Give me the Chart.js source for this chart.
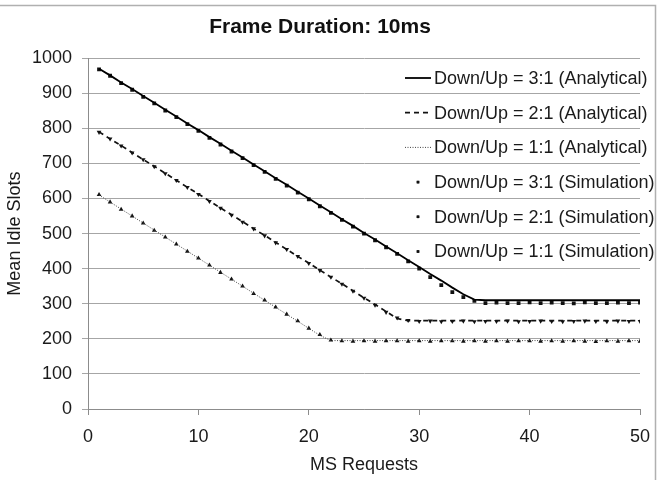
<!DOCTYPE html>
<html>
<head>
<meta charset="utf-8">
<title>Frame Duration: 10ms</title>
<script src="https://cdn.jsdelivr.net/npm/chart.js@4/dist/chart.umd.min.js"></script>
<style>
  html, body { margin: 0; padding: 0; background: #fff; }
  #chart { display: block; }
</style>
</head>
<body>
<canvas id="chart" width="663" height="480"></canvas>
<script>
// MS requests on the x axis
const requests = [1, 2, 3, 4, 5, 6, 7, 8, 9, 10, 11, 12, 13, 14, 15, 16, 17, 18, 19, 20,
  21, 22, 23, 24, 25, 26, 27, 28, 29, 30, 31, 32, 33, 34, 35, 36, 37, 38, 39, 40,
  41, 42, 43, 44, 45, 46, 47, 48, 49, 50];

// analytical curves
const analytical31 = [970, 951, 931, 912, 892, 873, 853, 834, 814, 795, 775, 756, 736, 717, 697, 678, 658, 639, 619, 600,
  580, 561, 541, 522, 502, 483, 463, 444, 424, 405, 385, 366, 346, 327, 312, 310, 310, 310, 310, 310,
  310, 310, 310, 310, 310, 310, 310, 310, 310, 310];
const analytical21 = [790, 770, 751, 731, 711, 692, 672, 652, 632, 613, 593, 573, 554, 534, 514, 495, 475, 455, 435, 416,
  396, 376, 357, 337, 317, 298, 278, 258, 252, 252, 252, 252, 252, 252, 252, 252, 252, 252, 252, 252,
  252, 252, 252, 252, 252, 252, 252, 252, 252, 252];
const analytical11 = [610, 590, 570, 550, 530, 510, 490, 470, 450, 430, 410, 390, 370, 350, 330, 310, 290, 270, 250, 230,
  210, 195, 195, 195, 195, 195, 195, 195, 195, 195, 195, 195, 195, 195, 195, 195, 195, 195, 195, 195,
  195, 195, 195, 195, 195, 195, 195, 195, 195, 195];

// simulation points
const simulation31 = [968, 950, 929, 910, 890, 871, 851, 832, 812, 793, 773, 754, 734, 715, 695, 676, 656, 637, 617, 598,
  578, 559, 539, 520, 500, 481, 461, 442, 421, 400, 376, 353, 333, 319, 308, 302, 303, 302, 302, 304,
  302, 303, 302, 301, 304, 302, 302, 303, 302, 303];
const simulation21 = [789, 770, 750, 730, 711, 691, 671, 652, 632, 612, 592, 573, 553, 533, 514, 494, 474, 455, 435, 415,
  395, 376, 356, 336, 316, 296, 276, 260, 253, 250, 251, 249, 250, 251, 249, 250, 250, 251, 249, 250,
  251, 250, 249, 250, 251, 250, 249, 251, 250, 250];
const simulation11 = [611, 590, 569, 550, 530, 509, 490, 470, 449, 430, 410, 389, 370, 350, 329, 310, 290, 270, 251, 230,
  212, 196, 194, 193, 194, 193, 194, 194, 193, 194, 193, 194, 194, 193, 194, 193, 194, 193, 194, 194,
  193, 194, 193, 194, 193, 192, 194, 193, 194, 193];

const yTicks = [0, 100, 200, 300, 400, 500, 600, 700, 800, 900, 1000];
const xTicks = [0, 10, 20, 30, 40, 50];

const FONT = '"Liberation Sans", Arial, sans-serif';
const toPoints = vals => vals.map((v, i) => ({ x: requests[i], y: v }));

const lineSet = (label, vals, dash, width, color) => ({
  label, data: toPoints(vals), borderColor: color, borderWidth: width, borderDash: dash,
  pointRadius: 0, fill: false, tension: 0, order: 1
});
const pointSet = (label, vals, style, rot, radius) => ({
  label, data: toPoints(vals), showLine: false, pointStyle: style, rotation: rot,
  pointRadius: radius, pointBackgroundColor: '#111', pointBorderColor: '#111', pointBorderWidth: 0, order: 2
});

const datasets = [
  lineSet('Down/Up = 3:1 (Analytical)', analytical31, [], 1.8, '#000'),
  lineSet('Down/Up = 2:1 (Analytical)', analytical21, [5, 4], 1.7, '#111'),
  lineSet('Down/Up = 1:1 (Analytical)', analytical11, [1, 1.5], 1, '#444'),
  pointSet('Down/Up = 3:1 (Simulation)', simulation31, 'rect', 0, 2.7),
  pointSet('Down/Up = 2:1 (Simulation)', simulation21, 'triangle', 180, 2.7),
  pointSet('Down/Up = 1:1 (Simulation)', simulation11, 'triangle', 0, 2.7)
];

// outer frame, like the spreadsheet chart border
const framePlugin = {
  id: 'frame',
  beforeDraw(chart) {
    const ctx = chart.ctx;
    ctx.save();
    ctx.fillStyle = '#fff';
    ctx.fillRect(0, 0, chart.width, chart.height);
    ctx.strokeStyle = '#b0b0b0';
    ctx.lineWidth = 1.5;
    ctx.beginPath();
    ctx.moveTo(0, 5.5);
    ctx.lineTo(655.5, 5.5);
    ctx.lineTo(655.5, chart.height);
    ctx.stroke();
    ctx.restore();
  }
};

// legend inside the plot, top right, no background
const legendPlugin = {
  id: 'insideLegend',
  afterDraw(chart) {
    const ctx = chart.ctx;
    const symX = 405, symW = 26, textX = 434;
    ctx.save();
    ctx.font = '18px ' + FONT;
    ctx.textBaseline = 'middle';
    ctx.textAlign = 'left';
    chart.data.datasets.forEach((ds, i) => {
      const y = 78 + i * 34.7;
      if (ds.showLine === false) {
        Chart.helpers.drawPoint(ctx, {
          pointStyle: 'rect', rotation: 0, radius: 1.8, borderWidth: 0
        }, symX + symW / 2, y);
        ctx.fillStyle = '#111';
        ctx.fill();
      } else {
        ctx.strokeStyle = ds.borderColor;
        ctx.lineWidth = ds.borderWidth;
        ctx.setLineDash(ds.borderDash);
        ctx.beginPath();
        ctx.moveTo(symX, y);
        ctx.lineTo(symX + symW, y);
        ctx.stroke();
        ctx.setLineDash([]);
      }
      ctx.fillStyle = '#1a1a1a';
      ctx.fillText(ds.label, textX, y + 1);
    });
    ctx.restore();
  }
};

new Chart(document.getElementById('chart'), {
  type: 'line',
  data: { datasets },
  plugins: [framePlugin, legendPlugin],
  options: {
    responsive: false,
    animation: false,
    devicePixelRatio: 1,
    layout: { padding: { left: 0, right: 23, top: 0, bottom: 0 } },
    plugins: {
      legend: { display: false },
      tooltip: { enabled: false },
      title: {
        display: true,
        text: 'Frame Duration: 10ms',
        color: '#111',
        font: { family: FONT, size: 21, weight: 'bold' },
        padding: { top: 15, bottom: 18 }
      }
    },
    scales: {
      x: {
        type: 'linear',
        min: 0, max: 50,
        afterFit: s => { s.height = 71; },
        afterBuildTicks: s => { s.ticks = xTicks.map(v => ({ value: v })); },
        ticks: { color: '#1a1a1a', font: { family: FONT, size: 18 }, padding: 11, maxRotation: 0,
          callback: v => String(v) },
        grid: { drawOnChartArea: false, drawTicks: true, tickLength: 6, color: '#8c8c8c' },
        border: { display: true, color: '#8c8c8c', width: 1 },
        title: {
          display: true, text: 'MS Requests', color: '#1a1a1a',
          font: { family: FONT, size: 18 }, padding: { top: 0, bottom: 4 }
        }
      },
      y: {
        min: 0, max: 1000,
        afterFit: s => { s.width = 88; },
        afterBuildTicks: s => { s.ticks = yTicks.map(v => ({ value: v })); },
        ticks: { color: '#1a1a1a', font: { family: FONT, size: 18 }, padding: 10,
          callback: v => String(v) },
        grid: { color: '#a6a6a6', lineWidth: 1, tickLength: 6 },
        border: { display: true, color: '#8c8c8c', width: 1 },
        title: {
          display: true, text: 'Mean Idle Slots', color: '#1a1a1a',
          font: { family: FONT, size: 18 }, padding: { top: 4, bottom: 0 }
        }
      }
    }
  }
});
</script>
</body>
</html>
